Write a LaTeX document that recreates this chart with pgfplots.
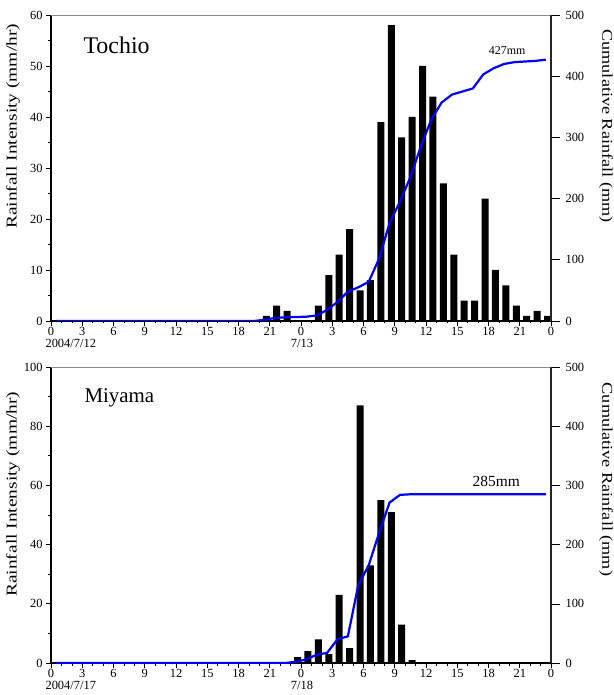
\documentclass[border=0pt]{standalone}
\usepackage{fontspec}
\setmainfont{Liberation Serif}
\usepackage{graphicx}
\usepackage{pgfplots}
\usepackage{pgfplotstable}
\pgfplotsset{compat=1.18}

\pgfplotstableread{
h v
21 1
22 3
23 2
24 0
25 0
26 3
27 9
28 13
29 18
30 6
31 8
32 39
33 58
34 36
35 40
36 50
37 44
38 27
39 13
40 4
41 4
42 24
43 10
44 7
45 3
46 1
47 2
48 1
}\tochiobars

\pgfplotstableread{
h v
24 2
25 4
26 8
27 3
28 23
29 5
30 87
31 33
32 55
33 51
34 13
35 1
}\miyamabars

\pgfplotstableread{
t c
0.5 0
19.5 0
20.5 2
21.5 5
22.5 6
24.5 7
25.5 9
26.5 18
27.5 31
28.5 48
29.5 55
30.5 64
31.5 102
32.5 160
33.5 195
34.5 235
35.5 285
36.5 329
37.5 357
38.5 370
39.5 375
40.5 380
41.5 403
42.5 413
43.5 420
44.5 423
45.5 424
46.5 425
47.5 427
}\tochiocum

\pgfplotstableread{
t c
0.5 0
22.5 0
23.5 2
24.5 6
25.5 14
26.5 17
27.5 40
28.5 45
29.5 132
30.5 165
31.5 220
32.5 271
33.5 284
34.5 285
47.5 285
}\miyamacum

\pgfplotsset{
  base/.style={
    scale only axis, width=500bp,
    xmin=0, xmax=48, enlargelimits=false,
    /pgf/number format/assume math mode=true,
    tick label style={font=\fontsize{12.5}{14}\selectfont},
    tick align=outside,
    clip mode=individual,
  },
  leftax/.style={
    base,
    axis y line*=left, axis x line*=bottom,
    y axis line style={line width=1.8bp, black},
    x axis line style={line width=1.1bp, black},
    xtick={0,3,...,48},
    xticklabels={0,3,6,9,12,15,18,21,0,3,6,9,12,15,18,21,0},
    minor xtick={0,1,...,48},
    major tick length=5bp, minor tick length=2.5bp,
    every tick/.style={black, line width=0.6bp},
    xticklabel style={yshift=2.5bp},
    ylabel style={at={(axis description cs:-0.076,#1)}, anchor=center,
      font=\fontsize{15}{17}\selectfont},
  },
  rightax/.style={
    base,
    axis y line*=right, axis x line*=top,
    xtick=\empty,
    y axis line style={line width=1.1bp, black!85},
    x axis line style={line width=0.6bp, black!45},
    ytick={0,100,...,500},
    major tick length=9bp,
    every tick/.style={black, line width=0.6bp},
    yticklabel style={anchor=west, xshift=2bp},
    ylabel style={at={(axis description cs:1.11,#1)}, anchor=center, rotate=180,
      font=\fontsize{15}{17}\selectfont},
  },
}

\begin{document}
\begin{tikzpicture}
\path[use as bounding box] (0,0) rectangle (614bp,695bp);

% ---------------- Tochio ----------------
\begin{axis}[leftax=0.636, at={(51bp,374bp)}, anchor=south west, height=306bp,
  ymin=0, ymax=60, ytick={0,10,...,60}, minor ytick={5,15,...,55},
  ylabel={\scalebox{1.3}[1]{Rainfall Intensity (mm/hr)}}]
\addplot[ybar, fill=black, draw=none, bar width=0.67]
  table[x expr=\thisrow{h}-0.335, y=v] {\tochiobars};
\node[anchor=west, font=\fontsize{24}{28}\selectfont] at (axis description cs:0.058,0.9) {Tochio};
\node[font=\fontsize{12.5}{14}\selectfont] at (axis cs:1.9,0) [yshift=-22bp] {2004/7/12};
\node[font=\fontsize{12.5}{14}\selectfont] at (axis cs:24.1,0) [yshift=-22bp] {7/13};
\end{axis}
\begin{axis}[rightax=0.637, at={(51bp,374bp)}, anchor=south west, height=306bp,
  ymin=0, ymax=500,
  ylabel={\scalebox{1.22}[1]{Cumulative Rainfall (mm)}}]
\addplot[color={rgb,255:red,0;green,0;blue,255}, line width=2.2bp] table[x=t, y=c] {\tochiocum};
\node[font=\fontsize{12}{14}\selectfont] at (axis cs:43.8,442) {427mm};
\end{axis}

% ---------------- Miyama ----------------
\begin{axis}[leftax=0.57, at={(51bp,32bp)}, anchor=south west, height=296bp,
  ymin=0, ymax=100, ytick={0,20,...,100}, minor ytick={10,30,...,90},
  ylabel={\scalebox{1.3}[1]{Rainfall Intensity (mm/hr)}}]
\addplot[ybar, fill=black, draw=none, bar width=0.67]
  table[x expr=\thisrow{h}-0.335, y=v] {\miyamabars};
\node[anchor=west, font=\fontsize{21}{25}\selectfont] at (axis description cs:0.06,0.895) {Miyama};
\node[font=\fontsize{12.5}{14}\selectfont] at (axis cs:1.9,0) [yshift=-22bp] {2004/7/17};
\node[font=\fontsize{12.5}{14}\selectfont] at (axis cs:24.1,0) [yshift=-22bp] {7/18};
\end{axis}
\begin{axis}[rightax=0.62, at={(51bp,32bp)}, anchor=south west, height=296bp,
  ymin=0, ymax=500,
  ylabel={\scalebox{1.22}[1]{Cumulative Rainfall (mm)}}]
\addplot[color={rgb,255:red,0;green,0;blue,255}, line width=2.2bp] table[x=t, y=c] {\miyamacum};
\node[font=\fontsize{15.5}{18}\selectfont] at (axis cs:42.75,306) {285mm};
\end{axis}
\end{tikzpicture}
\end{document}
